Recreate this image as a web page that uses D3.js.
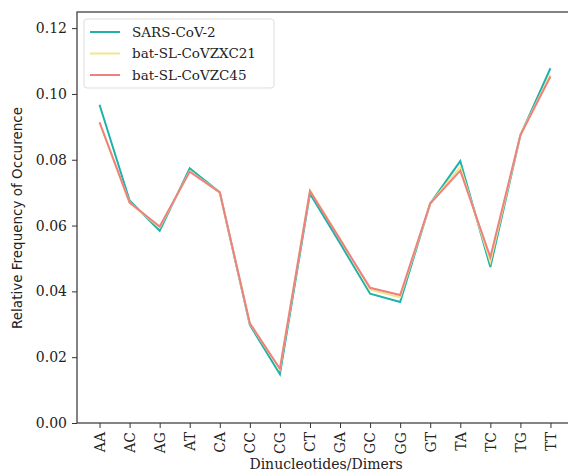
<!DOCTYPE html>
<html lang="en">
<meta charset="utf-8">
<title>Dinucleotide frequencies</title>
<style>
	body { margin: 0; background: #fff; }
	.tick text { font-family: "DejaVu Serif", serif; font-size: 14px; fill: #222; }
	.legend text { font-family: "DejaVu Serif", serif; font-size: 13.5px; fill: #222; }
	.ylabel { font-family: "DejaVu Sans", sans-serif; font-size: 13.5px; fill: #222; }
	.xlabel { font-family: "DejaVu Serif", serif; font-size: 14px; fill: #222; }
</style>
<body>
<script src="https://cdn.jsdelivr.net/npm/d3@7"></script>
<svg class="chart"></svg>
<script>
	var dimers = ["AA","AC","AG","AT","CA","CC","CG","CT","GA","GC","GG","GT","TA","TC","TG","TT"];
	var sars = [0.0967, 0.0676, 0.0584, 0.0774, 0.0701, 0.0298, 0.0148, 0.0697, 0.0546, 0.0393, 0.0368, 0.0667, 0.0796, 0.0474, 0.0874, 0.1078];
	var zxc21 = [0.0912, 0.0670, 0.0594, 0.0765, 0.0701, 0.0302, 0.0163, 0.0707, 0.0560, 0.0405, 0.0382, 0.0667, 0.0778, 0.0490, 0.0876, 0.1058];
	var zc45 = [0.0914, 0.0670, 0.0597, 0.0764, 0.0701, 0.0303, 0.0165, 0.0705, 0.0558, 0.0411, 0.0389, 0.0667, 0.0767, 0.0504, 0.0875, 0.1053];
	var yTicks = [0, 0.02, 0.04, 0.06, 0.08, 0.10, 0.12];
	var names = ["SARS-CoV-2", "bat-SL-CoVZXC21", "bat-SL-CoVZC45"];
	var colors = ["#20b2aa", "#f0e68c", "#f08080"];

	var W = 568, H = 473;
	var margin = {top: 12, right: -5, bottom: 50, left: 77},
	    width = W - margin.left - margin.right,
	    height = H - margin.top - margin.bottom;

	var svg = d3.select(".chart").attr("width", W).attr("height", H)
	  .append("g")
	    .attr("transform", "translate(" + margin.left + "," + margin.top + ")");

	var x = d3.scaleLinear().domain([-0.75, dimers.length - 1 + 0.75]).range([0, width]);
	var y = d3.scaleLinear().domain([0, 0.1249]).range([height, 0]);

	// y axis
	var yAxis = svg.append("g")
	    .call(d3.axisLeft(y).tickValues(yTicks).tickFormat(d3.format(".2f")).tickSizeOuter(0).tickSize(5).tickPadding(5));
	// x axis
	var xAxis = svg.append("g")
	    .attr("transform", "translate(0," + height + ")")
	    .call(d3.axisBottom(x).tickValues(d3.range(dimers.length)).tickFormat(function(i) { return dimers[i]; }).tickSizeOuter(0).tickSize(5));
	xAxis.selectAll("text")
	    .attr("transform", "rotate(-90)")
	    .attr("text-anchor", "end")
	    .attr("x", -9).attr("y", 0).attr("dy", "0.35em");
	svg.selectAll(".domain").remove();
	svg.selectAll(".tick line").attr("stroke", "#333").attr("stroke-width", 1);

	// frame
	svg.append("rect")
	    .attr("width", width).attr("height", height)
	    .attr("fill", "none").attr("stroke", "#333").attr("stroke-width", 1.2);

	var series = [sars, zxc21, zc45];
	var line = d3.line().x(function(d, i) { return x(i); }).y(function(d) { return y(d); });
	// draw in order so red sits on top
	series.forEach(function(s, k) {
		svg.append("path")
		    .datum(s)
		    .attr("fill", "none")
		    .attr("stroke", colors[k])
		    .attr("stroke-width", 2)
		    .attr("stroke-linejoin", "miter")
		    .attr("d", line);
	});

	// legend
	var lg = svg.append("g").attr("class", "legend").attr("transform", "translate(7,7)");
	lg.append("rect")
	    .attr("width", 190).attr("height", 69).attr("rx", 3)
	    .attr("fill", "#fff").attr("fill-opacity", 0.8)
	    .attr("stroke", "#ddd");
	names.forEach(function(n, k) {
		var row = lg.append("g").attr("transform", "translate(0," + (13 + k * 21.5) + ")");
		row.append("line").attr("x1", 6).attr("x2", 36)
		    .attr("stroke", colors[k]).attr("stroke-width", 2);
		row.append("text").attr("x", 48).attr("dy", "0.35em").text(n);
	});

	// labels
	svg.append("text")
	    .attr("class", "ylabel")
	    .attr("text-anchor", "middle")
	    .attr("transform", "translate(-55," + (218 - margin.top) + ") rotate(-90)")
	    .text("Relative Frequency of Occurence");
	svg.append("text")
	    .attr("class", "xlabel")
	    .attr("text-anchor", "middle")
	    .attr("x", 326 - margin.left)
	    .attr("y", 469 - margin.top)
	    .text("Dinucleotides/Dimers");
</script>
</body>
</html>
